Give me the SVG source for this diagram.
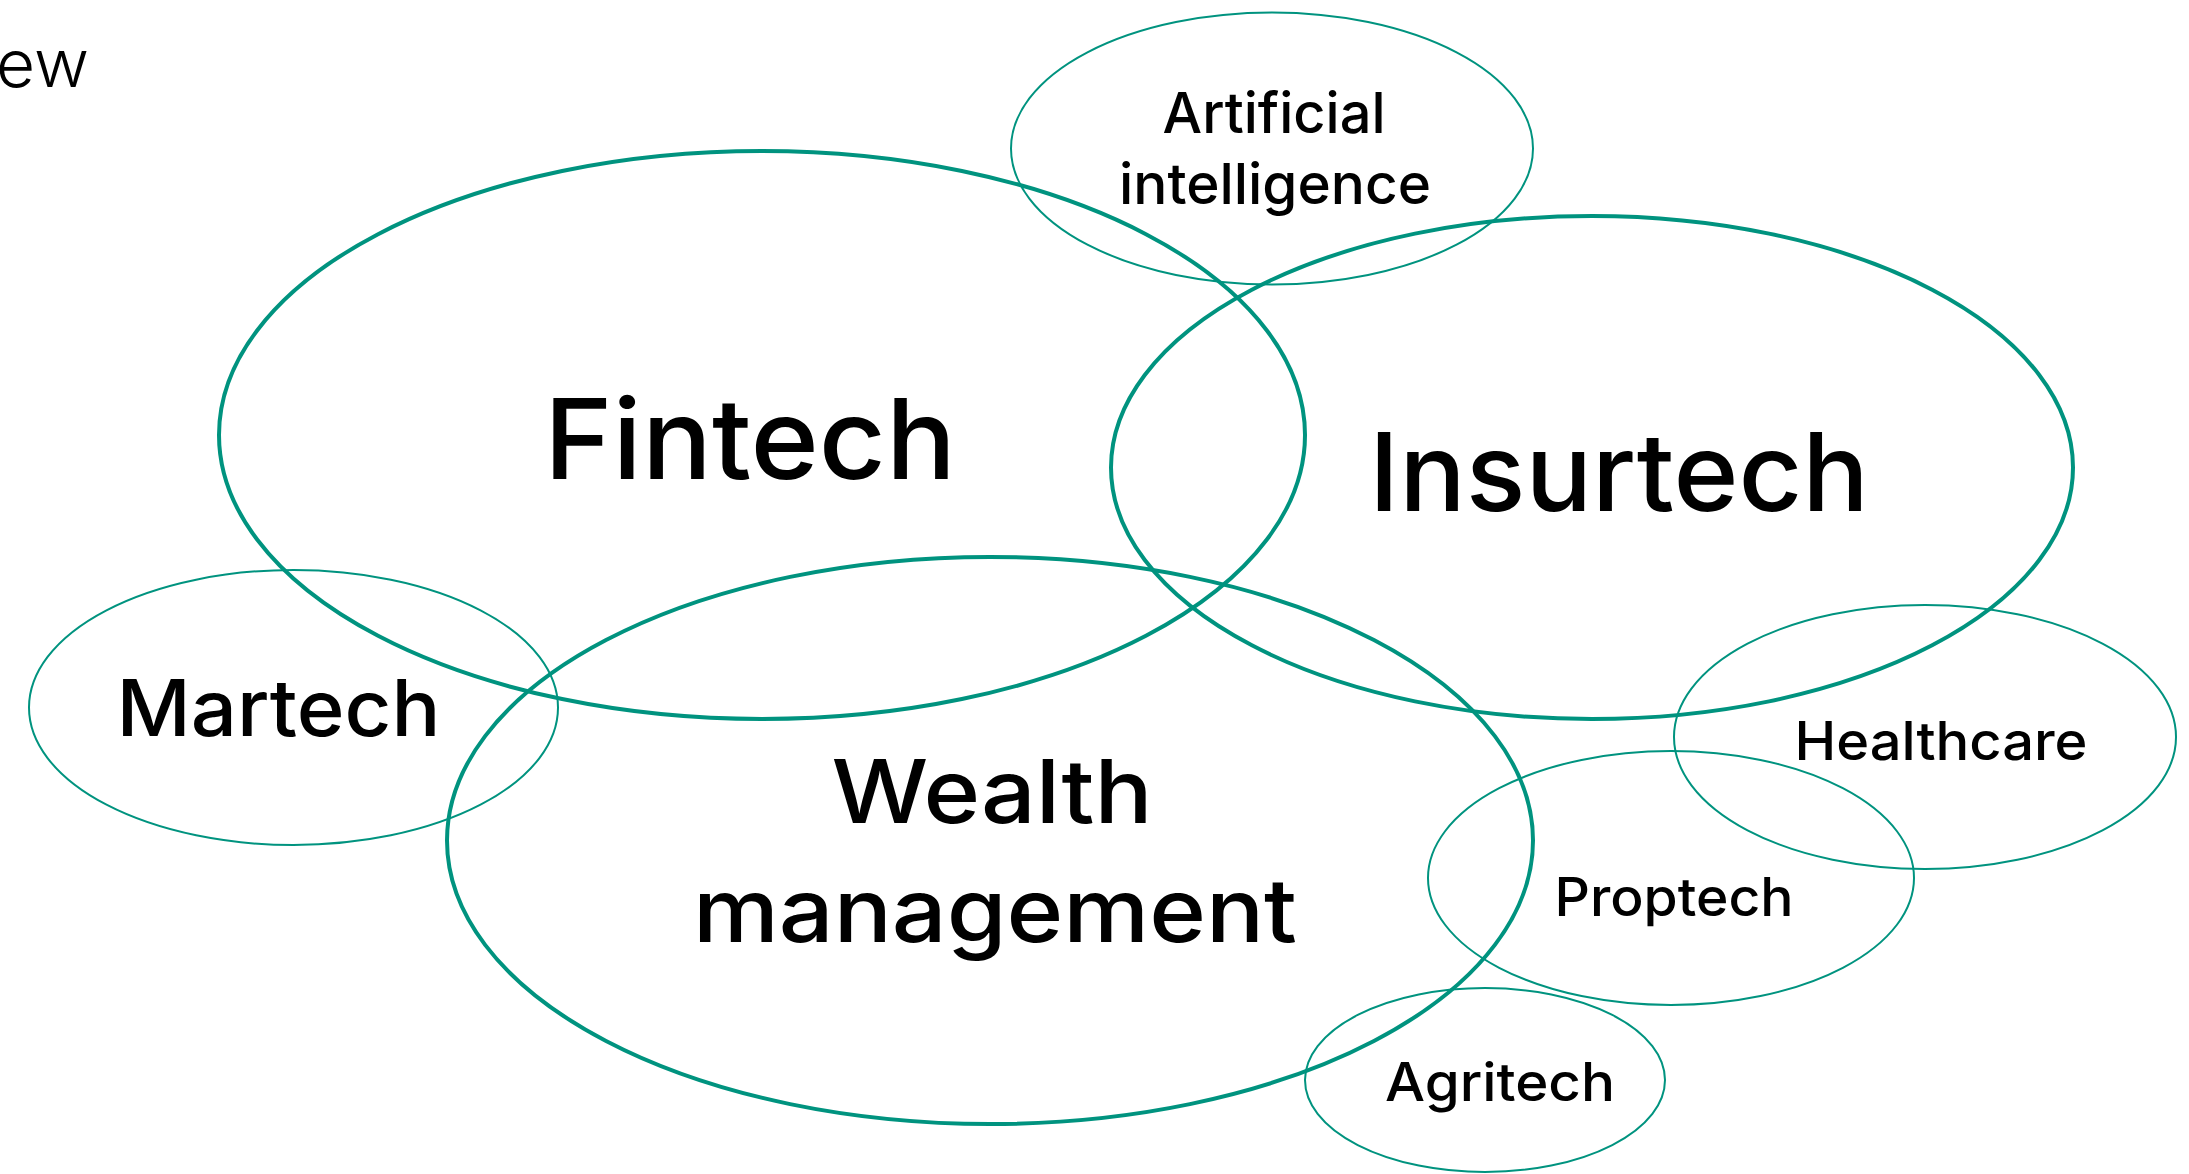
<svg xmlns="http://www.w3.org/2000/svg" width="2189" height="1174" viewBox="0 0 2189 1174">
<style>
.big{fill:none;stroke:#00937f;stroke-width:4}
.sm{fill:none;stroke:#00937f;stroke-width:2}
text{font-family:Inter,"Noto Sans","Liberation Sans",sans-serif;font-weight:500;fill:#000;text-anchor:middle}
.t{font-weight:300;text-anchor:start}
</style>
<rect width="2189" height="1174" fill="#fff"/>
<text class="t" x="-4" y="87" font-size="66" textLength="93" lengthAdjust="spacingAndGlyphs">ew</text>
<g id="ai"><ellipse class="sm" cx="1272" cy="148.5" rx="261" ry="136"/><text x="1274" y="133" font-size="56" textLength="223" lengthAdjust="spacingAndGlyphs">Artificial</text><text x="1275" y="204" font-size="56" textLength="312" lengthAdjust="spacingAndGlyphs">intelligence</text></g>
<g id="fintech"><ellipse class="big" cx="762" cy="435" rx="543" ry="284"/><text x="750" y="479" font-size="112" textLength="412" lengthAdjust="spacingAndGlyphs">Fintech</text></g>
<g id="insurtech"><ellipse class="big" cx="1592" cy="467.5" rx="481" ry="251.5"/><text x="1619" y="511" font-size="108" textLength="500" lengthAdjust="spacingAndGlyphs">Insurtech</text></g>
<g id="martech"><ellipse class="sm" cx="293.5" cy="707.5" rx="264.5" ry="137.5"/><text x="278.5" y="736" font-size="78" textLength="324" lengthAdjust="spacingAndGlyphs">Martech</text></g>
<g id="wealth"><ellipse class="big" cx="990" cy="840.5" rx="543" ry="283.5"/><text x="992" y="823" font-size="88" textLength="321" lengthAdjust="spacingAndGlyphs">Wealth</text><text x="995" y="942" font-size="88" textLength="604" lengthAdjust="spacingAndGlyphs">management</text></g>
<g id="healthcare"><ellipse class="sm" cx="1925" cy="737" rx="251" ry="132"/><text x="1941" y="760" font-size="53" textLength="293" lengthAdjust="spacingAndGlyphs">Healthcare</text></g>
<g id="proptech"><ellipse class="sm" cx="1671" cy="878" rx="243" ry="127"/><text x="1674" y="916" font-size="53" textLength="239" lengthAdjust="spacingAndGlyphs">Proptech</text></g>
<g id="agritech"><ellipse class="sm" cx="1485" cy="1080" rx="180" ry="92"/><text x="1500" y="1101" font-size="53" textLength="230" lengthAdjust="spacingAndGlyphs">Agritech</text></g>
<g id="connectors"></g>
</svg>
